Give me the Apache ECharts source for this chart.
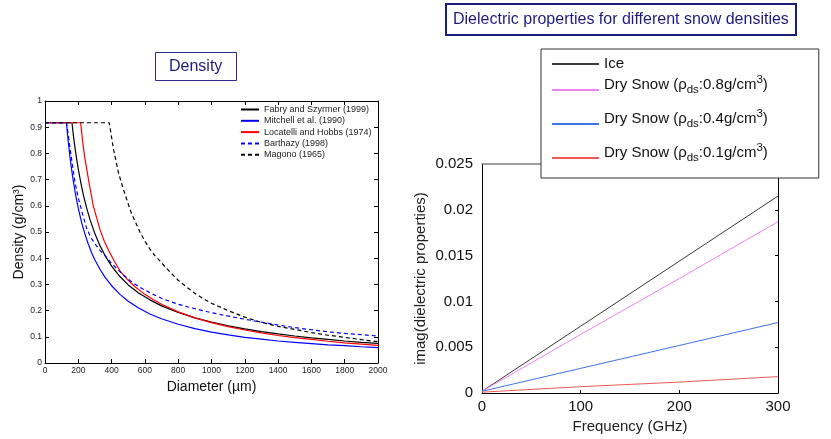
<!DOCTYPE html>
<html><head><meta charset="utf-8">
<script src="https://cdn.jsdelivr.net/npm/echarts@6/dist/echarts.min.js"></script>
<style>html,body{margin:0;padding:0;background:#fff}#c{width:831px;height:439px}</style>
</head><body><div id="c"></div>
<script>
// ---------- Left chart: density vs diameter ----------
const densityXTicks = ['0','200','400','600','800','1000','1200','1400','1600','1800','2000'];
const densityYTicks = ['0','0.1','0.2','0.3','0.4','0.5','0.6','0.7','0.8','0.9','1'];

const fabryD   = [0,162,170,180,190,200,215,230,250,270,300,330,360,400,450,500,560,630,700,800,900,1000,1100,1200,1300,1400,1500,1600,1700,1800,1900,2000];
const fabryRho = [0.917,0.917,0.871,0.822,0.779,0.740,0.688,0.643,0.592,0.548,0.493,0.448,0.411,0.370,0.330,0.298,0.268,0.241,0.218,0.193,0.172,0.156,0.142,0.130,0.120,0.111,0.103,0.096,0.090,0.084,0.079,0.075];

const mitchellD   = [0,129,135,140,150,160,170,185,200,220,240,260,280,300,330,360,400,450,500,560,630,700,800,900,1000,1100,1200,1300,1400,1500,1600,1700,1800,1900,2000];
const mitchellRho = [0.917,0.917,0.874,0.843,0.787,0.738,0.694,0.638,0.590,0.536,0.492,0.454,0.421,0.393,0.358,0.328,0.295,0.262,0.236,0.211,0.187,0.169,0.148,0.131,0.118,0.107,0.098,0.091,0.084,0.079,0.074,0.069,0.066,0.062,0.059];

const locatelliD   = [0,214,222,230,240,252,264,277,290,310,330,356,386,415,450,490,540,600,650,700,800,900,1000,1100,1200,1300,1400,1500,1600,1700,1800,1900,2000];
const locatelliRho = [0.917,0.917,0.870,0.825,0.780,0.735,0.690,0.645,0.600,0.555,0.510,0.465,0.425,0.390,0.352,0.322,0.291,0.262,0.242,0.224,0.195,0.172,0.154,0.139,0.126,0.115,0.105,0.097,0.090,0.083,0.077,0.072,0.067];

const barthazyD   = [0,129,140,150,165,180,200,225,250,275,300,330,360,400,470,530,580,650,711,800,870,1000,1150,1280,1400,1500,1600,1700,1800,1900,2000];
const barthazyRho = [0.917,0.917,0.870,0.820,0.755,0.690,0.630,0.570,0.514,0.480,0.455,0.430,0.410,0.380,0.336,0.305,0.285,0.262,0.244,0.224,0.212,0.192,0.173,0.158,0.145,0.135,0.127,0.119,0.113,0.108,0.103];

const magonoD   = [0,386,398,410,425,440,460,480,500,520,545,570,600,630,660,690,720,750,800,850,900,950,1000,1100,1200,1300,1400,1500,1600,1700,1800,1900,2000];
const magonoRho = [0.917,0.917,0.870,0.820,0.775,0.730,0.685,0.645,0.607,0.570,0.535,0.500,0.465,0.435,0.410,0.390,0.368,0.348,0.316,0.290,0.266,0.246,0.228,0.200,0.175,0.155,0.140,0.128,0.116,0.106,0.098,0.089,0.081];

// ---------- Right chart: imag(dielectric) vs frequency ----------
const freqGHz  = [0,100,200,300];
const iceImag  = [0.0002,0.0073,0.0144,0.0215];
const snow08   = [0.0002,0.0064,0.0125,0.0187];
const snow04   = [0.0002,0.0027,0.0052,0.0077];
const snow01   = [0.0001,0.0007,0.0012,0.0018];
const freqTicks = ['0','100','200','300'];
const imagTicks = ['0','0.005','0.01','0.015','0.02','0.025'];

const leftNames = ['Fabry and Szyrmer (1999)','Mitchell et al. (1990)','Locatelli and Hobbs (1974)','Barthazy (1998)','Magono (1965)'];
const rightNames = ['Ice','Dry Snow 0.8','Dry Snow 0.4','Dry Snow 0.1'];
const rightLabels = {
  'Ice': '{ice|Ice}',
  'Dry Snow 0.8': 'Dry Snow (ρ{sub|ds}:0.8g/cm{sup|3})',
  'Dry Snow 0.4': 'Dry Snow (ρ{sub|ds}:0.4g/cm{sup|3})',
  'Dry Snow 0.1': 'Dry Snow (ρ{sub|ds}:0.1g/cm{sup|3})'
};

const FONT = 'Liberation Sans, Arial, Helvetica, sans-serif';
const pairs = (xs, ys) => xs.map((x, i) => [x, ys[i]]);

const chart = echarts.init(document.getElementById('c'), null, {renderer: 'canvas'});

function leftLine(name, xs, ys, color, dashed) {
  return {
    name, type: 'line', xAxisIndex: 0, yAxisIndex: 0,
    data: pairs(xs, ys), symbol: 'none', smooth: false,
    lineStyle: {color, width: 1.2, type: dashed ? [4, 3] : 'solid'},
    itemStyle: {color}, emphasis: {disabled: true}
  };
}
function rightLine(name, ys, color) {
  return {
    name, type: 'line', xAxisIndex: 2, yAxisIndex: 2,
    data: pairs(freqGHz, ys), symbol: 'none',
    lineStyle: {color, width: 1}, itemStyle: {color}, emphasis: {disabled: true}
  };
}

const axisBlack = {show: true, onZero: false, lineStyle: {color: '#000', width: 1}};
const hiddenSymbol = {opacity: 0, borderWidth: 0};

const option = {
  animation: false,
  backgroundColor: '#fff',
  textStyle: {fontFamily: FONT},
  title: [
    {text: 'Density', left: 155, top: 52, padding: [6, 14],
     borderColor: '#2a2a8c', borderWidth: 1,
     textStyle: {fontSize: 16, fontWeight: 'normal', color: '#1c1c80', fontFamily: FONT, lineHeight: 17}},
    {text: 'Dielectric properties for different snow densities', left: 446, top: 4, padding: [7, 7],
     borderColor: '#1c1c7a', borderWidth: 2,
     textStyle: {fontSize: 16, fontWeight: 'normal', color: '#1c1c80', fontFamily: FONT, lineHeight: 17}}
  ],
  legend: [
    {orient: 'vertical', left: 240, top: 105, padding: 0, itemGap: 2.3, itemWidth: 18, itemHeight: 9,
     data: leftNames, selectedMode: false, itemStyle: hiddenSymbol,
     textStyle: {fontSize: 9, lineHeight: 9, color: '#222', fontFamily: FONT}},
    {orient: 'vertical', left: 541, top: 49, padding: [7, 51, 4, 10], itemGap: 2, itemWidth: 47, itemHeight: 16,
     backgroundColor: '#fff', borderColor: '#333', borderWidth: 1, selectedMode: false, itemStyle: hiddenSymbol,
     formatter: n => rightLabels[n],
     textStyle: {fontSize: 15, lineHeight: 22, color: '#111', fontFamily: FONT, padding: [0, 0, 10, 0],
       rich: {
         sub: {fontSize: 11.5, lineHeight: 11, verticalAlign: 'bottom', fontFamily: FONT, color: '#111'},
         sup: {fontSize: 11.5, lineHeight: 11, verticalAlign: 'top', fontFamily: FONT, color: '#111'},
         ice: {fontSize: 15, lineHeight: 16, fontFamily: FONT, color: '#111'}
       }},
     data: [{name: 'Ice', textStyle: {padding: 0, lineHeight: 16}}, 'Dry Snow 0.8', 'Dry Snow 0.4', 'Dry Snow 0.1']}
  ],
  grid: [
    {left: 45, top: 101, width: 333, height: 262, containLabel: false},
    {left: 482, top: 164, width: 296, height: 233, containLabel: false}
  ],
  xAxis: [
    {gridIndex: 0, type: 'value', min: 0, max: 2000, interval: 200, position: 'bottom',
     name: 'Diameter (µm)', nameLocation: 'middle', nameGap: 15,
     nameTextStyle: {fontSize: 14, color: '#111', fontFamily: FONT},
     axisLine: axisBlack, axisTick: {show: true, inside: true, length: 4, lineStyle: {color: '#000'}},
     axisLabel: {fontSize: 8.5, margin: 3, color: '#222', fontFamily: FONT,
                 formatter: (v, i) => densityXTicks[i]},
     splitLine: {show: false}},
    {gridIndex: 0, type: 'value', min: 0, max: 2000, interval: 200, position: 'top',
     axisLine: axisBlack, axisTick: {show: true, inside: true, length: 4, lineStyle: {color: '#000'}},
     axisLabel: {show: false}, splitLine: {show: false}},
    {gridIndex: 1, type: 'value', min: 0, max: 300, interval: 100, position: 'bottom',
     name: 'Frequency (GHz)', nameLocation: 'middle', nameGap: 25,
     nameTextStyle: {fontSize: 15, color: '#222', fontFamily: FONT},
     axisLine: axisBlack, axisTick: {show: true, inside: true, length: 3, lineStyle: {color: '#000'}},
     axisLabel: {fontSize: 15, margin: 6, color: '#111', fontFamily: FONT,
                 formatter: (v, i) => freqTicks[i]},
     splitLine: {show: false}},
    {gridIndex: 1, type: 'value', min: 0, max: 300, interval: 100, position: 'top',
     axisLine: {show: true, onZero: false, lineStyle: {color: '#808080', width: 1.5}}, axisTick: {show: false},
     axisLabel: {show: false}, splitLine: {show: false}}
  ],
  yAxis: [
    {gridIndex: 0, type: 'value', min: 0, max: 1, interval: 0.1, position: 'left',
     name: 'Density (g/cm³)', nameLocation: 'middle', nameGap: 18,
     nameTextStyle: {fontSize: 14, color: '#111', fontFamily: FONT},
     axisLine: axisBlack, axisTick: {show: true, inside: true, length: 4, lineStyle: {color: '#000'}},
     axisLabel: {fontSize: 8.5, margin: 3, color: '#222', fontFamily: FONT,
                 formatter: (v, i) => densityYTicks[i]},
     splitLine: {show: false}},
    {gridIndex: 0, type: 'value', min: 0, max: 1, interval: 0.1, position: 'right',
     axisLine: axisBlack, axisTick: {show: true, inside: true, length: 4, lineStyle: {color: '#000'}},
     axisLabel: {show: false}, splitLine: {show: false}},
    {gridIndex: 1, type: 'value', min: 0, max: 0.025, interval: 0.005, position: 'left',
     name: 'imag(dielectric properties)', nameLocation: 'middle', nameGap: 54,
     nameTextStyle: {fontSize: 15, color: '#222', fontFamily: FONT},
     axisLine: axisBlack, axisTick: {show: false},
     axisLabel: {fontSize: 15, margin: 9, color: '#111', fontFamily: FONT,
                 formatter: (v, i) => imagTicks[i]},
     splitLine: {show: false}},
    {gridIndex: 1, type: 'value', min: 0, max: 0.025, interval: 0.005, position: 'right',
     axisLine: axisBlack, axisTick: {show: true, inside: true, length: 3, lineStyle: {color: '#000'}},
     axisLabel: {show: false}, splitLine: {show: false}}
  ],
  series: [
    leftLine(leftNames[0], fabryD, fabryRho, '#000000', false),
    leftLine(leftNames[1], mitchellD, mitchellRho, '#0000ff', false),
    leftLine(leftNames[2], locatelliD, locatelliRho, '#ff0000', false),
    leftLine(leftNames[3], barthazyD, barthazyRho, '#0000ff', true),
    leftLine(leftNames[4], magonoD, magonoRho, '#000000', true),
    rightLine(rightNames[0], iceImag, '#3a3a3a'),
    rightLine(rightNames[1], snow08, '#ee82ee'),
    rightLine(rightNames[2], snow04, '#3f74e8'),
    rightLine(rightNames[3], snow01, '#f05a55')
  ]
};
chart.setOption(option);
</script>
</body></html>
